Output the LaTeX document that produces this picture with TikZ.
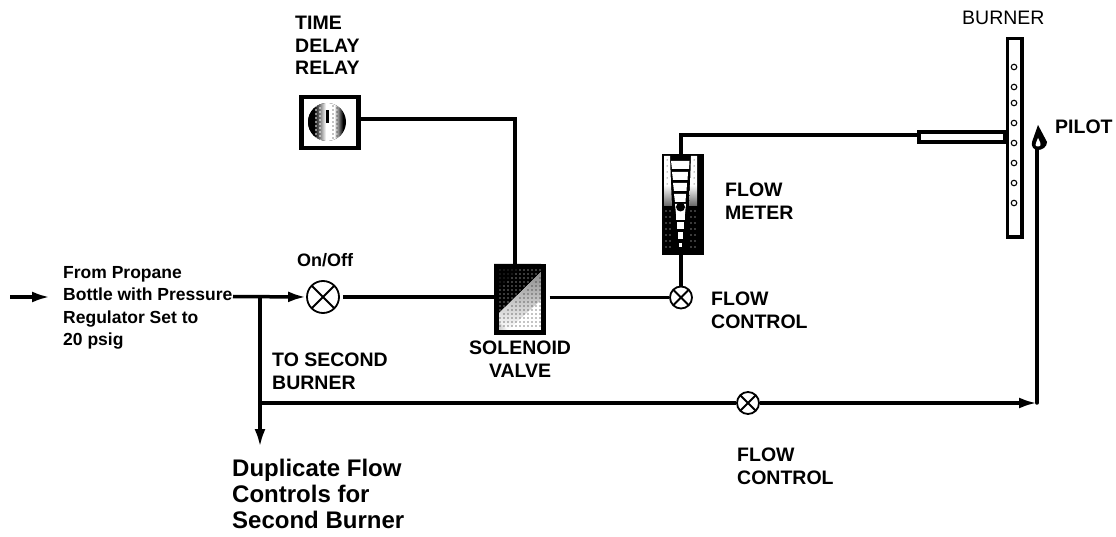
\documentclass[tikz,border=0pt]{standalone}
\usepackage{fontspec}
\setmainfont{Liberation Sans}
\usetikzlibrary{arrows.meta,calc}
\tikzset{
  pipe/.style={line width=3.5pt,line cap=butt},
  flowarrow/.style={-{Latex[length=18pt,width=11pt]}},
  lab/.style={font=\bfseries\fontsize{19.5}{22.5}\selectfont,align=left,anchor=north west,inner sep=0pt},
  smalllab/.style={font=\bfseries\fontsize{17.5}{22.5}\selectfont,align=left,anchor=north west,inner sep=0pt},
  biglab/.style={font=\bfseries\fontsize{24}{26}\selectfont,align=left,anchor=north west,inner sep=0pt},
  valve/.style={circle,draw,line width=1.8pt,fill=white,inner sep=0pt,minimum size=#1,
    path picture={\draw[line width=1.8pt]
      ($(path picture bounding box.north west)!.15!(path picture bounding box.south east)$)--($(path picture bounding box.north west)!.85!(path picture bounding box.south east)$)
      ($(path picture bounding box.north east)!.15!(path picture bounding box.south west)$)--($(path picture bounding box.north east)!.85!(path picture bounding box.south west)$);}},
  hole/.style={circle,draw,line width=1.1pt,fill=white,inner sep=0pt,minimum size=5.5pt},
  blackbox/.style={draw,line width=4.5pt,inner sep=0pt,anchor=north west}
}
\begin{document}
\begin{tikzpicture}[x=1pt,y=-1pt]
\useasboundingbox (0,0) rectangle (1116,537);
\fill[white] (0,0) rectangle (1116,537);

% junctions and free ends
\coordinate (inA) at (10,297);
\coordinate (inB) at (50,297);
\coordinate (mainS) at (233,296.5);
\coordinate (tee1) at (260,296.5);
\coordinate (tee2) at (260,403);
\coordinate (dupEnd) at (260,447);
\coordinate (pilotCorner) at (1037,403);
\coordinate (solTop) at (515,264);
\coordinate (relayBend) at (515,119);
\coordinate (meterBend) at (681,135);

% time delay relay
\node[blackbox,minimum width=57pt,minimum height=51pt] (relay) at (299,95) {};
\fill[black] (327,122) circle (19pt);
\begin{scope}
\clip (327,122) circle (19pt);
\fill[black] (308,103) rectangle (314,141);
\shade[left color=black,right color=white] (314,103) rectangle (326,141);
\fill[white] (326,103) rectangle (334,141);
\shade[left color=white,right color=black] (334,103) rectangle (343,141);
\foreach \yy in {106,110,...,138}{\fill[white] (316,\yy) circle (.8pt);\fill[white] (320,\yy+2) circle (.8pt);\fill[black] (333,\yy) circle (.6pt);\fill[black] (337,\yy+2) circle (.7pt);}
\fill[black] (326,110) rectangle (328.5,123);
\end{scope}

% solenoid valve
\begin{scope}
\clip (494,264) rectangle (541,330);
\fill[white] (494,264) rectangle (541,330);
\fill[black] (494,264) -- (541,264) -- (541,272) -- (494,318) -- cycle;
\shade[top color=black!45,bottom color=white] (541,272) -- (541,300) -- (508,330) -- (494,318) -- cycle;
\shade[left color=black!30,right color=white] (494,318) -- (508,330) -- (494,330) -- cycle;
\foreach \xx in {496,500,...,540}\foreach \yy in {266,270,...,328}{
  \pgfmathsetmacro{\dd}{(\yy-264)+(\xx-494)}
  \pgfmathparse{\dd<54?1:0}
  \ifnum\pgfmathresult=1 \pgfmathsetmacro{\rr}{0.25+\dd/54*0.45}\fill[white] (\xx,\yy) circle (\rr pt);
  \else \pgfmathparse{\dd>56?1:0}\ifnum\pgfmathresult=1 \fill[black] (\xx,\yy) circle (.7pt);\fi\fi}
\end{scope}
\node[blackbox,minimum width=47pt,minimum height=66pt] (sol) at (494,264) {};

% flow meter
\node[blackbox,fill=black,minimum width=37pt,minimum height=97pt] (meter) at (662,154) {};
\fill[white] (664,156) -- (670,156) -- (671,185) -- (664,185) -- cycle;
\fill[white] (697,156) -- (691,156) -- (690,185) -- (697,185) -- cycle;
\shade[top color=white,bottom color=black!60] (664,185) -- (671,185) -- (672,206) -- (664,206) -- cycle;
\shade[top color=white,bottom color=black!60] (697,185) -- (690,185) -- (689,206) -- (697,206) -- cycle;
\foreach \xx in {666,670}\foreach \yy in {211,217,...,247}{\fill[white] (\xx,\yy) circle (.7pt);}
\foreach \xx in {691,695}\foreach \yy in {211,217,...,247}{\fill[white] (\xx,\yy) circle (.7pt);}
\foreach \yy in {160,166,...,184}{\fill[black] (667,\yy) circle (.5pt);\fill[black] (694,\yy) circle (.5pt);}
\fill[white] (671,161) -- (689.5,161) -- (689,169) -- (672,169) -- cycle;
\fill[white] (672,172) -- (688,172) -- (687.5,180) -- (673,180) -- cycle;
\fill[white] (673,183) -- (687,183) -- (686.5,191) -- (674,191) -- cycle;
\fill[white] (674,194) -- (686,194) -- (685.5,202) -- (675,202) -- cycle;
\fill[white] (675,204) -- (686,204) -- (685,214) -- (676,214) -- cycle;
\fill[black] (680.5,207) circle (4.5pt);
\fill[white] (676,213) -- (685,213) -- (685,220) -- (676,220) -- cycle;
\fill[white] (677,222) -- (684,222) -- (684,229) -- (677,229) -- cycle;
\fill[white] (678,232) -- (683,232) -- (683,239) -- (678,239) -- cycle;
\fill[white] (679,243) -- (682,243) -- (682,247) -- (679,247) -- cycle;

% burner
\node[blackbox,fill=white,minimum width=14.5pt,minimum height=198.5pt,line width=3.5pt] (burner) at (1005.75,36.75) {};
\foreach \i/\yy in {1/67,2/87,3/103,4/123,5/143,6/163,7/183,8/203}
  \node[hole] (h\i) at (1014,\yy) {};
\node[blackbox,fill=white,minimum width=86pt,minimum height=10pt,line width=4pt] (stub) at (917,130) {};

% valves
\node[valve=32pt] (v1) at (323,297) {};
\node[valve=22pt] (v2) at (681,297.5) {};
\node[valve=22pt] (v3) at (748,403) {};

% pilot flame
\coordinate (pilot) at (1037,149);
\fill[black,line join=round] (1038,125) -- (1047,142) .. controls (1047,147) and (1042,150) .. (1038,150) .. controls (1034,150) and (1031,147) .. (1032,142) -- cycle;
\fill[white] (1038,138) .. controls (1040,142) and (1041,144) .. (1040.5,145) .. controls (1040,147) and (1036,147) .. (1035.5,145) .. controls (1035.5,143) and (1037,141) .. (1038,138) -- cycle;

% connectors
\draw[pipe,flowarrow] (inA) -- (inB);
\draw[pipe,flowarrow] (mainS) -- (v1.west);
\draw[pipe] ([xshift=3pt]v1.east) -- (sol.west |- v1.east);
\draw[pipe] ([xshift=4pt]sol.east |- v2.west) -- (v2.west);
\draw[pipe] (v2.north) -- (v2.north |- meter.south);
\draw[pipe] (relay.east |- relayBend) -- (relayBend) -- (solTop);
\draw[pipe] (meterBend |- meter.north) -- (meterBend) -- (stub.west |- meterBend);
\draw[pipe,flowarrow] (tee1) -- (dupEnd);
\draw[pipe] (tee2) -- (v3.west);
\draw[pipe,flowarrow] (v3.east) -- (pilotCorner);
\draw[pipe,line cap=round] (pilotCorner) -- (pilot);

% labels
\node[lab] (tTime) at (295,16) {TIME\\DELAY\\RELAY};
\node[font=\fontsize{19.5}{22}\selectfont,anchor=north west,inner sep=0pt] (tBurner) at (962,11) {BURNER};
\node[lab] (tPilot) at (1055,120) {PILOT};
\node[lab] (tMeter) at (725,183) {FLOW\\METER};
\node[lab] (tControlA) at (711,292) {FLOW\\CONTROL};
\node[lab] (tControlB) at (737,448) {FLOW\\CONTROL};
\node[lab,align=center] (tSol) at (469,341) {SOLENOID\\VALVE};
\node[lab] (tSecond) at (272,353) {TO SECOND\\BURNER};
\node[font=\bfseries\fontsize{18}{20}\selectfont,anchor=north west,inner sep=0pt] (tOnOff) at (297,253) {On/Off};
\node[smalllab] (tFrom) at (63,266) {From Propane\\Bottle with Pressure\\Regulator Set to\\20 psig};
\node[biglab] (tDup) at (232,459) {Duplicate Flow\\Controls for\\Second Burner};
\end{tikzpicture}
\end{document}
